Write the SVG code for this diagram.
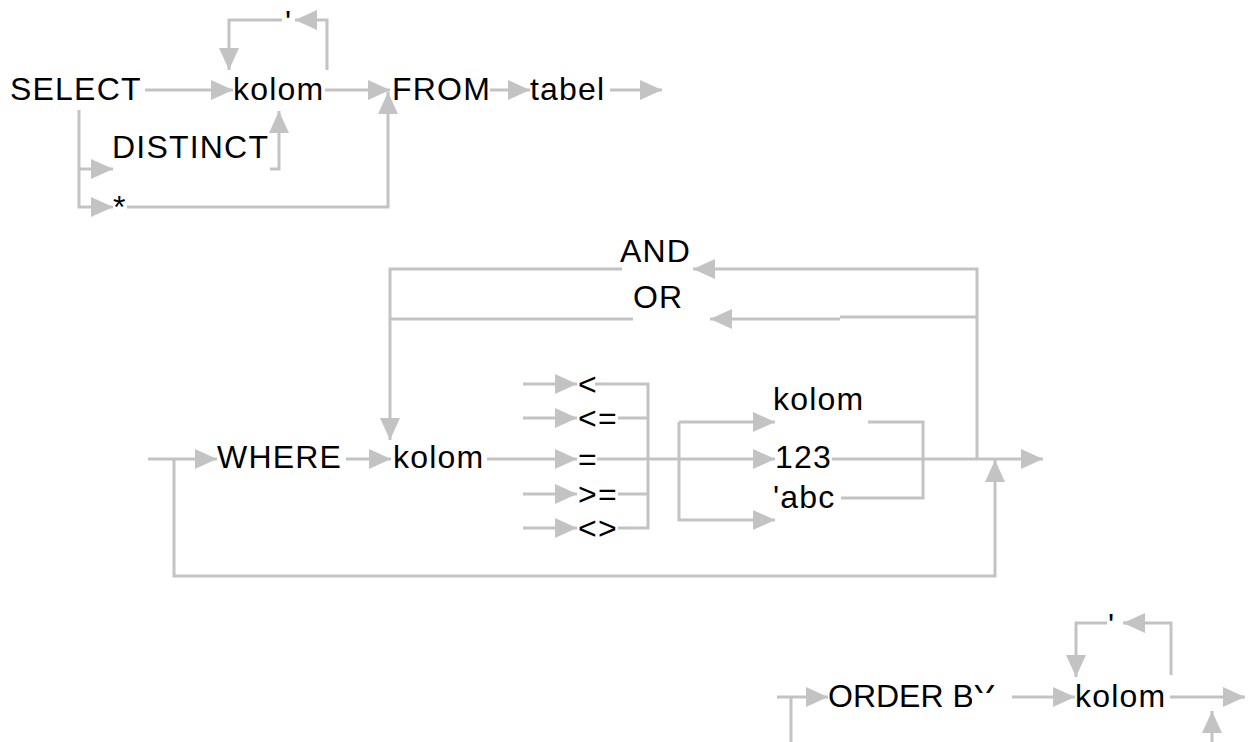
<svg xmlns="http://www.w3.org/2000/svg" width="1250" height="742" viewBox="0 0 1250 742">
<style>
.t{font-family:"Liberation Sans",Arial,sans-serif;font-size:32px;fill:#000;letter-spacing:1.2px}
.c{fill:none;stroke:#c3c3c3;stroke-width:3;marker-end:url(#ah)}
.n{fill:none;stroke:#c3c3c3;stroke-width:3}
</style>
<defs>
<marker id="ah" viewBox="0 0 22 20" refX="22" refY="10" markerWidth="22" markerHeight="20" markerUnits="userSpaceOnUse" orient="auto">
<path d="M0,0 L22,10 L0,20 z" fill="#c3c3c3"/>
</marker>
<clipPath id="clipY">
<rect x="800" y="650" width="172" height="80"/>
<rect x="972" y="650" width="40" height="43"/>
</clipPath>
</defs>
<rect width="1250" height="742" fill="#fff"/>
<g id="connectors">
<path class="c" d="M145,90 H233"/>
<path class="c" d="M325,90 H390"/>
<path class="c" d="M490,90 H530"/>
<path class="c" d="M610,90 H662"/>
<path class="c" d="M327,70 V20 H295"/>
<path class="c" d="M282,20 H229 V70"/>
<path class="c" d="M79,110 V207 H113"/>
<path class="c" d="M79,169 H113"/>
<path class="c" d="M270,169 H279 V111"/>
<path class="c" d="M127,207 H388 V92"/>
<path class="c" d="M148,459 H217"/>
<path class="c" d="M346,459 H391"/>
<path class="c" d="M487,459 H577"/>
<path class="c" d="M523,384 H577"/>
<path class="c" d="M523,418 H577"/>
<path class="c" d="M523,494 H577"/>
<path class="c" d="M523,528 H577"/>
<path class="n" d="M595,384 H648 V528 H618"/>
<path class="n" d="M618,418 H648"/>
<path class="n" d="M618,494 H648"/>
<path class="c" d="M597,459 H775"/>
<path class="c" d="M679,422 H775"/>
<path class="c" d="M679,422 V520 H775"/>
<path class="n" d="M868,422 H923 V498 H841"/>
<path class="c" d="M832,459 H1043"/>
<path class="c" d="M977,459 V269 H693"/>
<path class="c" d="M977,317 H840 M840,319 H710"/>
<path class="c" d="M622,269 H390 V440"/>
<path class="n" d="M633,319 H390"/>
<path class="c" d="M174,459 V576 H995 V460"/>
<path class="c" d="M777,697 H828"/>
<path class="n" d="M791,697 V742"/>
<path class="c" d="M1012,697 H1075"/>
<path class="c" d="M1170,697 H1245"/>
<path class="c" d="M1212,742 V711"/>
<path class="c" d="M1171,675 V623 H1123"/>
<path class="c" d="M1107,623 H1076 V677"/>
</g>
<g id="n-select"><text class="t" x="10" y="100">SELECT</text></g>
<g id="n-kolom1"><text class="t" x="233" y="100">kolom</text></g>
<g id="n-comma1"><text class="t" x="285" y="33">'</text></g>
<g id="n-from"><text class="t" x="392" y="100">FROM</text></g>
<g id="n-tabel"><text class="t" x="530" y="100">tabel</text></g>
<g id="n-distinct"><text class="t" x="112" y="158">DISTINCT</text></g>
<g id="n-star"><text class="t" x="113" y="218">*</text></g>
<g id="n-and"><text class="t" x="620" y="262">AND</text></g>
<g id="n-or"><text class="t" x="633" y="308">OR</text></g>
<g id="n-where"><text class="t" x="217" y="468">WHERE</text></g>
<g id="n-kolom2"><text class="t" x="393" y="468">kolom</text></g>
<g id="n-lt"><text class="t" x="578" y="395">&lt;</text></g>
<g id="n-le"><text class="t" x="578" y="429">&lt;=</text></g>
<g id="n-eq"><text class="t" x="578" y="470">=</text></g>
<g id="n-ge"><text class="t" x="578" y="505">&gt;=</text></g>
<g id="n-ne"><text class="t" x="578" y="539">&lt;&gt;</text></g>
<g id="n-kolom3"><text class="t" x="773" y="410">kolom</text></g>
<g id="n-123"><text class="t" x="775" y="468">123</text></g>
<g id="n-abc"><text class="t" x="773" y="508">'abc</text></g>
<g id="n-orderby"><text class="t" x="828" y="707" clip-path="url(#clipY)" style="letter-spacing:0">ORDER BY</text></g>
<g id="n-kolom4"><text class="t" x="1075" y="707">kolom</text></g>
<g id="n-comma2"><text class="t" x="1108" y="636">'</text></g>
</svg>
